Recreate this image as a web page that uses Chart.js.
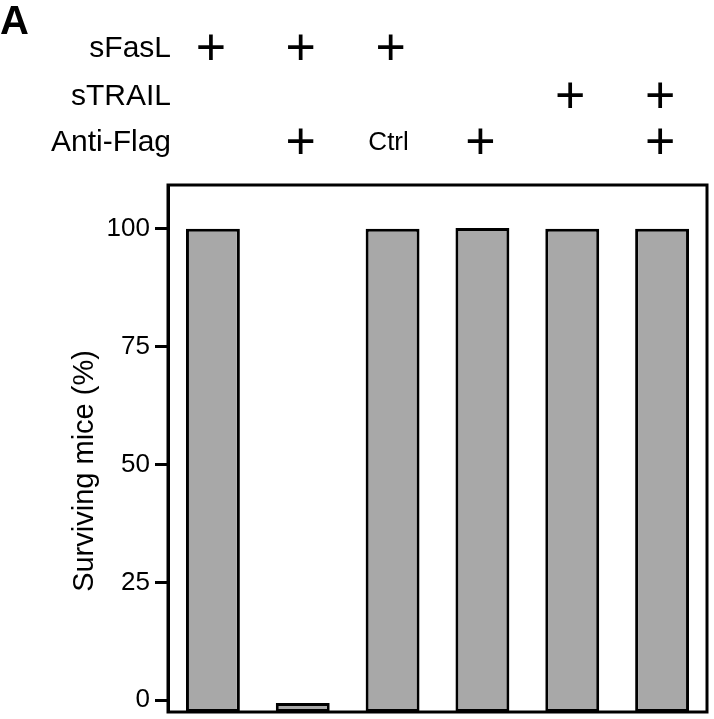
<!DOCTYPE html>
<html>
<head>
<meta charset="utf-8">
<script src="https://cdn.jsdelivr.net/npm/chart.js@4"></script>
<style>
  html, body { margin: 0; padding: 0; background: #fff; }
  #wrap { width: 714px; height: 719px; }
</style>
</head>
<body>
<div id="wrap"><canvas id="survChart"></canvas></div>
<script>
const groups = ['1', '2', '3', '4', '5', '6'];
const surviving = [100, -0.6, 100, 100.2, 100, 100];
const yTicks = [0, 25, 50, 75, 100];
const yTitle = 'Surviving mice (%)';

// treatment rows above the plot
const rowNames = ['sFasL', 'sTRAIL', 'Anti-Flag'];
const sFasL = ['+', '+', '+', '', '', ''];
const sTRAIL = ['', '', '', '', '+', '+'];
const antiFlag = ['', '+', 'Ctrl', '+', '', '+'];

const FONT = "'Liberation Sans', Arial, Helvetica, sans-serif";

const framePlugin = {
    id: 'frame',
    afterDatasetsDraw(chart) {
        const { ctx, chartArea } = chart;
        ctx.save();
        ctx.strokeStyle = '#000';
        ctx.lineWidth = 3;
        ctx.strokeRect(chartArea.left, chartArea.top,
            chartArea.right - chartArea.left, chartArea.bottom - chartArea.top);
        ctx.restore();
    }
};

const headerPlugin = {
    id: 'header',
    afterDraw(chart) {
        const { ctx, chartArea } = chart;
        const x = chart.scales.x;
        const rows = [sFasL, sTRAIL, antiFlag];
        const rowY = [49, 97, 143];
        ctx.save();
        ctx.fillStyle = '#000';

        ctx.font = `bold 40px ${FONT}`;
        ctx.textAlign = 'left';
        ctx.textBaseline = 'middle';
        ctx.fillText('A', 0, 23);

        // y axis title, a little below the middle as in the figure
        ctx.save();
        ctx.translate(85, 471);
        ctx.rotate(-Math.PI / 2);
        ctx.font = `29px ${FONT}`;
        ctx.textAlign = 'center';
        ctx.fillText(yTitle, 0, 0);
        ctx.restore();

        rows.forEach((row, r) => {
            ctx.font = `30px ${FONT}`;
            ctx.textAlign = 'right';
            ctx.textBaseline = 'middle';
            ctx.fillText(rowNames[r], chartArea.left + 3, rowY[r]);
            ctx.textAlign = 'center';
            row.forEach((mark, i) => {
                if (!mark) return;
                const px = x.getPixelForValue(i);
                if (mark === '+') {
                    ctx.font = `52px ${FONT}`;
                    ctx.fillText(mark, px - 2, rowY[r] + 2);
                } else {
                    ctx.font = `26px ${FONT}`;
                    ctx.fillText(mark, px - 4, rowY[r]);
                }
            });
        });
        ctx.restore();
    }
};

new Chart(document.getElementById('survChart'), {
    type: 'bar',
    data: {
        labels: groups,
        datasets: [{
            data: surviving,
            base: -2.5,
            backgroundColor: '#a8a8a8',
            borderColor: '#000',
            borderWidth: 3,
            borderSkipped: false,
            barPercentage: 0.6,
            categoryPercentage: 1
        }]
    },
    options: {
        responsive: true,
        maintainAspectRatio: false,
        animation: false,
        layout: { padding: { top: 185, left: 50, right: 7, bottom: 7 } },
        plugins: {
            legend: { display: false },
            tooltip: { enabled: false }
        },
        scales: {
            x: { display: false },
            y: {
                min: -2.5,
                max: 109.3,
                afterBuildTicks: s => { s.ticks = yTicks.map(v => ({ value: v })); },
                afterFit: s => {
                    s.width = 118;
                    s.paddingTop = 0;
                    s.paddingBottom = 0;
                },
                ticks: {
                    color: '#000',
                    padding: 5,
                    font: { family: FONT, size: 26 }
                },
                grid: {
                    drawOnChartArea: false,
                    tickLength: 13,
                    tickWidth: 3,
                    tickColor: '#000'
                },
                border: { display: true, color: '#000', width: 3 }
            }
        }
    },
    plugins: [framePlugin, headerPlugin]
});
</script>
</body>
</html>
